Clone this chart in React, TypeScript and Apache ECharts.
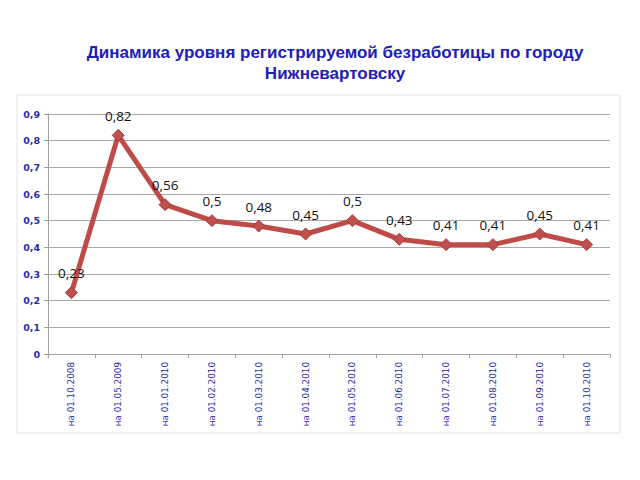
import React, { useEffect, useRef } from "react";
import * as echarts from "echarts";

const titleLines = ["Динамика уровня регистрируемой безработицы по городу", "Нижневартовску"];
const categories = [
  "на 01.10.2008", "на 01.05.2009", "на 01.01.2010", "на 01.02.2010",
  "на 01.03.2010", "на 01.04.2010", "на 01.05.2010", "на 01.06.2010",
  "на 01.07.2010", "на 01.08.2010", "на 01.09.2010", "на 01.10.2010",
];
const values = [0.23, 0.82, 0.56, 0.5, 0.48, 0.45, 0.5, 0.43, 0.41, 0.41, 0.45, 0.41];

const fmt = (v: number) => String(v).replace(".", ",");

export default function App() {
  const ref = useRef<HTMLDivElement>(null);
  useEffect(() => {
    const chart = echarts.init(ref.current!, null, { renderer: "svg" });
    chart.setOption({
      animation: false,
      backgroundColor: "#ffffff",
      title: {
        text: titleLines.join("\n"),
        left: 330,
        textAlign: "center",
        top: 37,
        textStyle: {
          color: "#2020b8",
          fontSize: 17,
          fontWeight: "bold",
          fontFamily: "Liberation Sans, Arial, sans-serif",
          lineHeight: 21,
        },
      },
      graphic: [
        {
          type: "rect",
          shape: { x: 17, y: 95, width: 603, height: 338 },
          style: { fill: "none", stroke: "#e4e4e4", lineWidth: 1 },
          silent: true,
        },
      ],
      grid: { left: 48, right: 30, top: 114, bottom: 126 },
      xAxis: {
        type: "category",
        data: categories,
        boundaryGap: true,
        axisLine: { show: true, lineStyle: { color: "#a0a0a0" } },
        axisTick: { show: true, length: 4, lineStyle: { color: "#a0a0a0" }, alignWithLabel: false },
        axisLabel: {
          rotate: 90,
          interval: 0,
          color: "#2a2ab0",
          fontSize: 8.8,
          fontFamily: "DejaVu Sans, sans-serif",
          margin: 8,
        },
      },
      yAxis: {
        type: "value",
        min: 0,
        max: 0.9,
        interval: 0.1,
        axisLine: { show: true, lineStyle: { color: "#a0a0a0" } },
        axisTick: { show: true, length: 4, lineStyle: { color: "#a0a0a0" } },
        splitLine: { show: true, lineStyle: { color: "#a8a8a8", width: 1 } },
        axisLabel: {
          color: "#2a2ab0",
          fontSize: 9.5,
          fontWeight: "bold",
          fontFamily: "DejaVu Sans, sans-serif",
          margin: 8,
          formatter: (v: number) => fmt(Math.round(v * 10) / 10),
        },
      },
      series: [
        {
          type: "line",
          data: values,
          symbol: "diamond",
          symbolSize: 12,
          lineStyle: { color: "#be4b48", width: 5 },
          itemStyle: { color: "#c0504d", borderColor: "#a33c39", borderWidth: 1 },
          label: {
            show: true,
            position: "top",
            distance: 6,
            color: "#111111",
            fontSize: 13.5,
            fontFamily: "Open Sans, DejaVu Sans, sans-serif",
            formatter: (p: any) => fmt(p.value),
          },
        },
      ],
    });
    return () => chart.dispose();
  }, []);
  return <div ref={ref} style={{ width: 640, height: 480, marginLeft: -8, marginTop: -8 }} />;
}
